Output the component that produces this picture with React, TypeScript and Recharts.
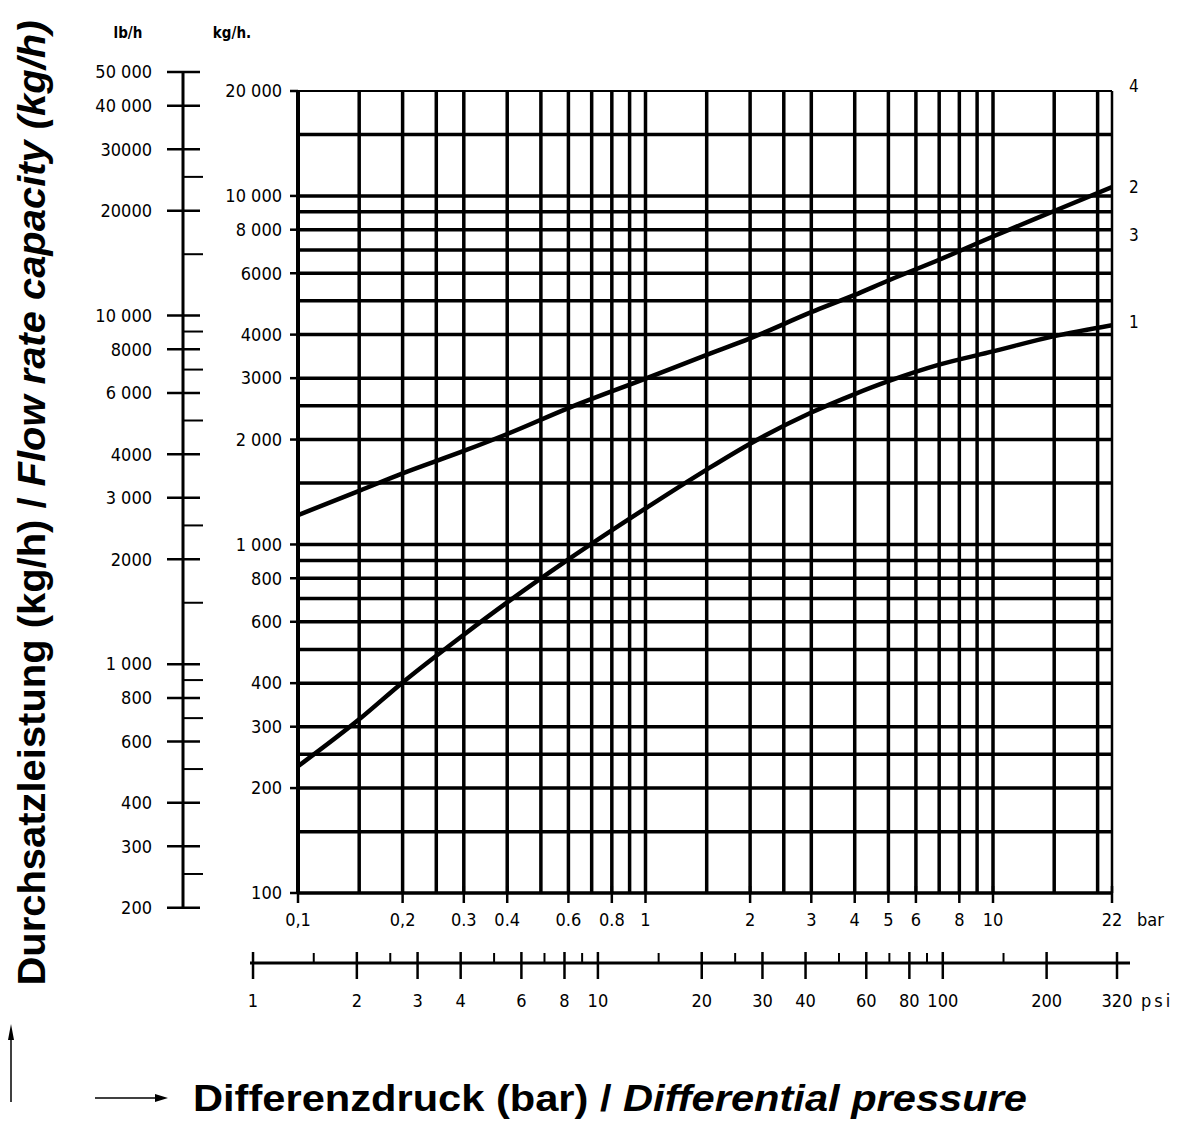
import React from 'react';
import { LineChart, Line, XAxis, YAxis, ReferenceLine, ReferenceDot } from 'recharts';

// ---------- data ----------
const barTicks = [0.1, 0.2, 0.3, 0.4, 0.6, 0.8, 1, 2, 3, 4, 5, 6, 8, 10, 22];
const barTickLabels = ['0,1', '0,2', '0.3', '0.4', '0.6', '0.8', '1', '2', '3', '4', '5', '6', '8', '10', '22'];
const barGrid = [0.15, 0.2, 0.25, 0.3, 0.4, 0.5, 0.6, 0.7, 0.8, 0.9, 1, 1.5, 2, 2.5, 3, 4, 5, 6, 7, 8, 9, 10, 15, 20];

const kgTicks = [100, 200, 300, 400, 600, 800, 1000, 2000, 3000, 4000, 6000, 8000, 10000, 20000];
const kgTickLabels = ['100', '200', '300', '400', '600', '800', '1 000', '2 000', '3000', '4000', '6000', '8 000', '10 000', '20 000'];
const kgGrid = [150, 200, 250, 300, 400, 500, 600, 700, 800, 900, 1000, 1500, 2000, 2500, 3000, 4000, 5000, 6000, 7000, 8000, 9000, 10000, 15000];

const lbMajorTicks = [200, 300, 400, 600, 800, 1000, 2000, 3000, 4000, 6000, 8000, 10000, 20000, 30000, 40000, 50000];
const lbMajorLabels = ['200', '300', '400', '600', '800', '1 000', '2000', '3 000', '4000', '6 000', '8000', '10 000', '20000', '30000', '40 000', '50 000'];
const lbMinorTicks = [250, 500, 700, 900, 1500, 2500, 5000, 7000, 9000, 15000, 25000];

const psiMajorTicks = [1, 2, 3, 4, 6, 8, 10, 20, 30, 40, 60, 80, 100, 200, 320];
const psiMinorTicks = [1.5, 2.5, 5, 7, 9, 15, 25, 50, 70, 90, 150];

const curvePressure = [0.1, 0.15, 0.2, 0.3, 0.4, 0.6, 1, 1.5, 2, 3, 4, 5, 7, 10, 15, 22];
const curve2Flow = [1214, 1425, 1600, 1855, 2075, 2462, 2990, 3500, 3900, 4640, 5200, 5720, 6560, 7650, 9050, 10600];
const curve1Flow = [231, 315, 402, 551, 682, 906, 1269, 1640, 1946, 2390, 2700, 2940, 3280, 3580, 3960, 4258];

const curveLabels = ['4', '2', '3', '1'];
const curveLabelFlows = [20700, 10600, 7700, 4350];

const curve2Data = curvePressure.map((x, i) => ({ x, y: curve2Flow[i] }));
const curve1Data = curvePressure.map((x, i) => ({ x, y: curve1Flow[i] }));

// ---------- styles ----------
const W = 1183;
const H = 1122;
const INK = '#000';
const tickFont = "'Liberation Sans Narrow', 'DejaVu Sans Condensed', 'Liberation Sans', sans-serif";
const titleFont = "'Liberation Sans', Arial, sans-serif";
const GRID_W = 3.5;

const BarTick = (props: any) => {
  const { x, y, payload } = props;
  const i = barTicks.indexOf(payload.value);
  return (
    <g>
      <line x1={x} x2={x} y1={y - 7} y2={y + 10} stroke={INK} strokeWidth={2.5} />
      <text x={x} y={y + 33} textAnchor="middle" fontFamily={tickFont} fontSize={18} fill={INK}>
        {barTickLabels[i]}
      </text>
      {payload.value === 22 && (
        <text x={x + 25} y={y + 33} textAnchor="start" fontFamily={tickFont} fontSize={18} fill={INK}>
          bar
        </text>
      )}
    </g>
  );
};

const KgTick = (props: any) => {
  const { x, y, payload } = props;
  const i = kgTicks.indexOf(payload.value);
  return (
    <g>
      <line x1={x - 8} x2={x} y1={y} y2={y} stroke={INK} strokeWidth={2.5} />
      <text x={x - 16} y={y} dy="0.35em" textAnchor="end" fontFamily={tickFont} fontSize={18} fill={INK}>
        {kgTickLabels[i]}
      </text>
    </g>
  );
};

const LbTick = (props: any) => {
  const { x, y, payload } = props;
  const i = lbMajorTicks.indexOf(payload.value);
  if (i < 0) {
    return <line x1={x + 1} x2={x + 20} y1={y} y2={y} stroke={INK} strokeWidth={2} />;
  }
  return (
    <g>
      <line x1={x - 16} x2={x + 17} y1={y} y2={y} stroke={INK} strokeWidth={2.5} />
      <text x={x - 31} y={y} dy="0.35em" textAnchor="end" fontFamily={tickFont} fontSize={18} fill={INK}>
        {lbMajorLabels[i]}
      </text>
    </g>
  );
};

const PsiTick = (props: any) => {
  const { x, y, payload } = props;
  const isMajor = psiMajorTicks.indexOf(payload.value) >= 0;
  if (!isMajor) {
    return <line x1={x} x2={x} y1={y - 10} y2={y} stroke={INK} strokeWidth={2} />;
  }
  return (
    <g>
      <line x1={x} x2={x} y1={y - 11} y2={y + 16} stroke={INK} strokeWidth={2.5} />
      <text x={x} y={y + 44} textAnchor="middle" fontFamily={tickFont} fontSize={18} fill={INK}>
        {payload.value}
      </text>
      {payload.value === 320 && (
        <text x={x + 24} y={y + 44} textAnchor="start" fontFamily={tickFont} fontSize={18} fill={INK} letterSpacing={3}>
          psi
        </text>
      )}
    </g>
  );
};

const YTitle = () => (
  <g>
    <text
      transform="translate(45,503) rotate(-90)"
      textAnchor="middle"
      fontFamily={titleFont}
      fontWeight="bold"
      fontSize={38}
      fill={INK}
      textLength={965}
      lengthAdjust="spacingAndGlyphs"
    >
      <tspan>Durchsatzleistung (kg/h) / </tspan>
      <tspan fontStyle="italic">Flow rate capacity (kg/h)</tspan>
    </text>
    <line x1={11} x2={11} y1={1030} y2={1102} stroke={INK} strokeWidth={1.5} />
    <polygon points="8,1040 14,1040 11,1024" fill={INK} />
    <text x={232} y={38} textAnchor="middle" fontFamily={tickFont} fontSize={15} fontWeight="bold" fill={INK}>
      kg/h.
    </text>
  </g>
);

const LbTitle = () => (
  <text x={128} y={38} textAnchor="middle" fontFamily={tickFont} fontSize={15} fontWeight="bold" fill={INK}>
    lb/h
  </text>
);

const XTitle = () => (
  <g>
    <line x1={95} x2={158} y1={1098} y2={1098} stroke={INK} strokeWidth={1.5} />
    <polygon points="155,1094 155,1102 168,1098" fill={INK} />
    <text
      x={193}
      y={1111}
      fontFamily={titleFont}
      fontWeight="bold"
      fontSize={37}
      fill={INK}
      textLength={834}
      lengthAdjust="spacingAndGlyphs"
    >
      <tspan>Differenzdruck (bar) / </tspan>
      <tspan fontStyle="italic">Differential pressure</tspan>
    </text>
  </g>
);

const CurveLabel = (text: string) => (props: any) => {
  const vb = props.viewBox || {};
  const cx = (vb.x || 0) + (vb.width || 0) / 2;
  const cy = (vb.y || 0) + (vb.height || 0) / 2;
  return (
    <text x={cx + 17} y={cy} dy="0.35em" fontFamily={tickFont} fontSize={17} fill={INK}>
      {text}
    </text>
  );
};

const layer: React.CSSProperties = { position: 'absolute', left: 0, top: 0 };

export default function App() {
  return (
    <div style={{ position: 'absolute', left: 0, top: 0, width: W, height: H, background: '#fff' }}>
      {/* lb/h auxiliary axis */}
      <div style={layer}>
        <LineChart width={W} height={H} margin={{ top: 71.96, right: 0, bottom: 214.25, left: 0 }}>
          <XAxis type="number" dataKey="x" domain={[0, 1]} hide />
          <YAxis
            type="number"
            scale="log"
            domain={[200, 50000]}
            allowDataOverflow
            ticks={[...lbMajorTicks, ...lbMinorTicks]}
            interval={0}
            width={183}
            tickSize={0}
            tickMargin={0}
            tickLine={false}
            tick={<LbTick />}
            axisLine={{ stroke: INK, strokeWidth: 3 }}
            label={LbTitle}
          />
        </LineChart>
      </div>

      {/* psi auxiliary axis */}
      <div style={layer}>
        <LineChart width={W} height={H} margin={{ top: 900, right: 53, bottom: 109, left: 250 }}>
          <YAxis hide type="number" domain={[0, 1]} />
          <XAxis
            type="number"
            dataKey="x"
            scale="log"
            domain={[0.98, 349]}
            allowDataOverflow
            ticks={[...psiMajorTicks, ...psiMinorTicks]}
            interval={0}
            height={50}
            tickSize={0}
            tickMargin={0}
            tickLine={false}
            tick={<PsiTick />}
            axisLine={{ stroke: INK, strokeWidth: 3 }}
          />
        </LineChart>
      </div>

      {/* main chart */}
      <div style={layer}>
        <LineChart width={W} height={H} margin={{ top: 91, right: 71, bottom: 189, left: 0 }}>
          <XAxis
            type="number"
            dataKey="x"
            scale="log"
            domain={[0.1, 22]}
            allowDataOverflow
            ticks={barTicks}
            interval={0}
            height={40}
            tickSize={0}
            tickMargin={0}
            tickLine={false}
            tick={<BarTick />}
            axisLine={{ stroke: INK, strokeWidth: 3.5 }}
            label={XTitle}
          />
          <YAxis
            type="number"
            dataKey="y"
            scale="log"
            domain={[100, 20000]}
            allowDataOverflow
            ticks={kgTicks}
            interval={0}
            width={298}
            tickSize={0}
            tickMargin={0}
            tickLine={false}
            tick={<KgTick />}
            axisLine={{ stroke: INK, strokeWidth: 4 }}
            label={YTitle}
          />
          {kgGrid.map((v) => (
            <ReferenceLine key={'h' + v} y={v} stroke={INK} strokeWidth={GRID_W} />
          ))}
          {barGrid.map((v) => (
            <ReferenceLine key={'v' + v} x={v} stroke={INK} strokeWidth={GRID_W} />
          ))}
          <ReferenceLine y={20000} stroke={INK} strokeWidth={2} />
          <ReferenceLine x={22} stroke={INK} strokeWidth={2.5} />
          <Line
            data={curve2Data}
            dataKey="y"
            type="monotone"
            stroke={INK}
            strokeWidth={4.5}
            dot={false}
            isAnimationActive={false}
          />
          <Line
            data={curve1Data}
            dataKey="y"
            type="monotone"
            stroke={INK}
            strokeWidth={4.5}
            dot={false}
            isAnimationActive={false}
          />
          {curveLabels.map((t, i) => (
            <ReferenceDot
              key={'c' + t}
              x={22}
              y={curveLabelFlows[i]}
              r={0}
              fill="none"
              stroke="none"
              ifOverflow="visible"
              label={CurveLabel(t)}
            />
          ))}
        </LineChart>
      </div>
    </div>
  );
}
